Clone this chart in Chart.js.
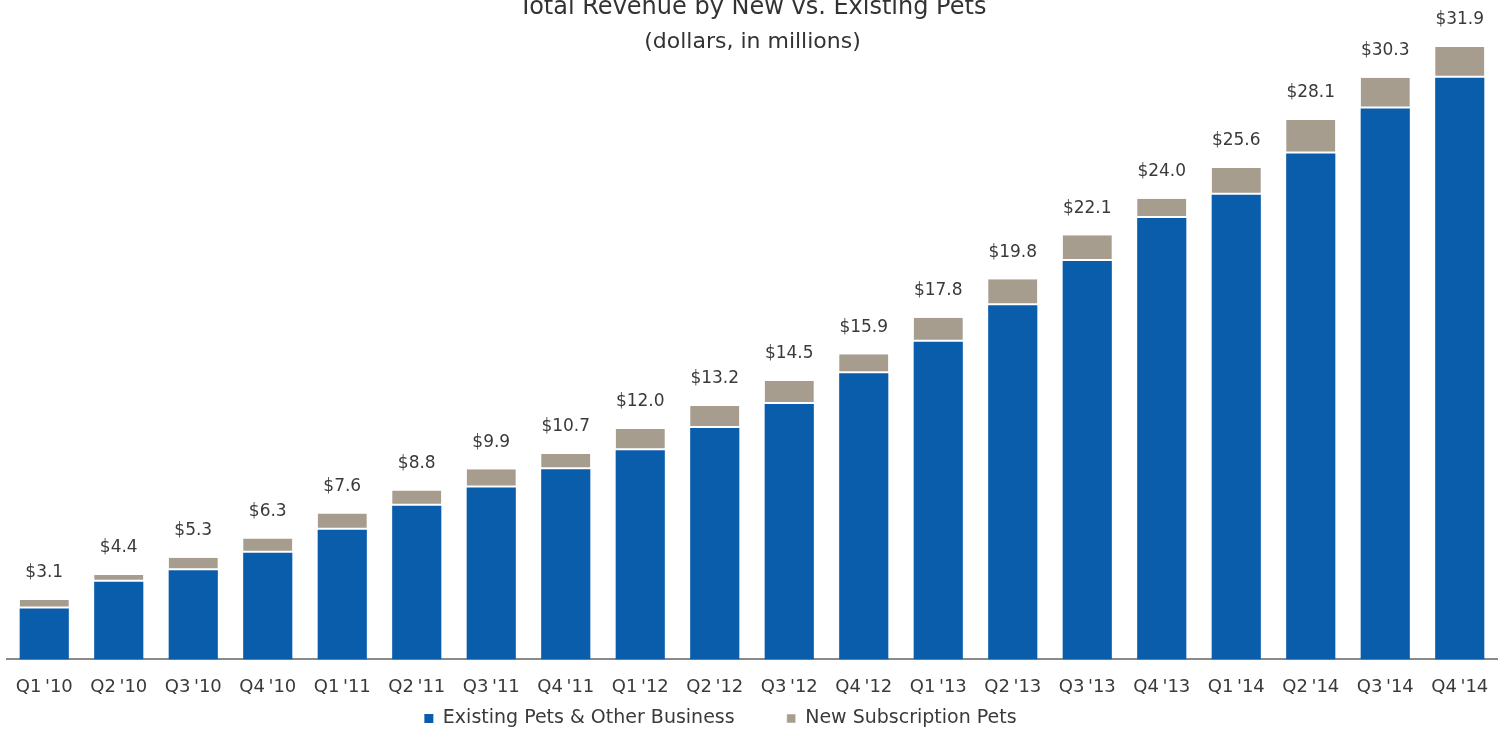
<!DOCTYPE html>
<html lang="en">
<head>
    <meta charset="UTF-8">
    <title>Total Revenue by New vs. Existing Pets</title>
    <script src="https://cdn.jsdelivr.net/npm/chart.js"></script>
    <style>
        body { margin: 0; background: #fff; }
        #wrap { width: 1505px; height: 738px; position: relative; }
    </style>
</head>
<body>
<div id="wrap"><canvas id="revenueChart"></canvas></div>
<script>
    const quarters = ["Q1'10", "Q2'10", "Q3'10", "Q4'10", "Q1'11", "Q2'11", "Q3'11", "Q4'11",
        "Q1'12", "Q2'12", "Q3'12", "Q4'12", "Q1'13", "Q2'13", "Q3'13", "Q4'13",
        "Q1'14", "Q2'14", "Q3'14", "Q4'14"];
    const totals = [3.1, 4.4, 5.3, 6.3, 7.6, 8.8, 9.9, 10.7, 12.0, 13.2, 14.5, 15.9,
        17.8, 19.8, 22.1, 24.0, 25.6, 28.1, 30.3, 31.9];
    const existingPets = [2.65, 4.05, 4.65, 5.55, 6.75, 8.0, 8.95, 9.9, 10.9, 12.05, 13.3, 14.9,
        16.55, 18.45, 20.75, 23.0, 24.2, 26.35, 28.7, 30.3];
    const newPets = totals.map((t, i) => Math.round((t - existingPets[i]) * 100) / 100);

    const textColor = '#3a3a3a';
    const fontName = '"DejaVu Sans", sans-serif';

    // totals above each stack + two-line title
    const labelPlugin = {
        id: 'labels',
        afterDatasetsDraw(chart) {
            const c = chart.ctx;
            const top = chart.getDatasetMeta(1);
            c.save();
            c.fillStyle = textColor;
            c.font = '17px ' + fontName;
            c.textAlign = 'center';
            c.textBaseline = 'middle';
            top.data.forEach((bar, i) => {
                c.fillText('$' + totals[i].toFixed(1), bar.x, bar.y - 27);
            });
            c.fillStyle = '#333';
            c.font = '24px ' + fontName;
            c.fillText('Total Revenue by New vs. Existing Pets', chart.width / 2, 8);
            c.font = '22px ' + fontName;
            c.fillText('(dollars, in millions)', chart.width / 2, 42);
            c.restore();
        }
    };

    const ctx = document.getElementById('revenueChart').getContext('2d');
    new Chart(ctx, {
        type: 'bar',
        data: {
            labels: quarters.map(q => q.replace("'", "\u2009'")),
            datasets: [{
                label: 'Existing Pets & Other Business',
                data: existingPets,
                backgroundColor: '#0a5dab',
                borderWidth: 0
            }, {
                label: 'New Subscription Pets',
                data: newPets,
                backgroundColor: '#a69d8e',
                borderColor: '#ffffff',
                borderWidth: { top: 0, left: 0, right: 0, bottom: 2 },
                borderSkipped: false
            }]
        },
        options: {
            responsive: true,
            maintainAspectRatio: false,
            animation: false,
            layout: { padding: { left: 7, right: 8, top: 0, bottom: 0 } },
            datasets: { bar: { categoryPercentage: 0.66, barPercentage: 1 } },
            plugins: {
                legend: {
                    position: 'bottom',
                    labels: {
                        boxWidth: 9,
                        boxHeight: 9,
                        padding: 2,
                        color: textColor,
                        font: { size: 19, family: fontName },
                        generateLabels(chart) {
                            const items = Chart.defaults.plugins.legend.labels.generateLabels(chart);
                            // wide gap between entries, legend sits a bit left of centre
                            items[0].text += '\u2003\u2003  ';
                            items[1].text += '\u2003\u2003\u2003 ';
                            return items;
                        }
                    }
                },
                tooltip: { enabled: false }
            },
            scales: {
                x: {
                    stacked: true,
                    grid: { display: false },
                    border: { color: '#8a8a8a', width: 2 },
                    ticks: { color: textColor, font: { size: 18, family: fontName }, padding: 9, maxRotation: 0 }
                },
                y: {
                    stacked: true,
                    display: false,
                    min: 0,
                    max: 34.35
                }
            }
        },
        plugins: [labelPlugin]
    });
</script>
</body>
</html>
